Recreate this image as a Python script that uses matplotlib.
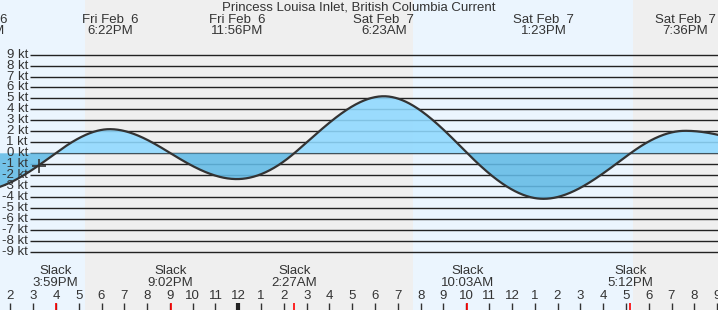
import numpy as np
import matplotlib
matplotlib.use("Agg")
import matplotlib.pyplot as plt
import matplotlib.transforms as mtransforms

plt.rcParams['font.family'] = ['Liberation Sans', 'DejaVu Sans']

# ---- data (hours from Fri Feb 6 00:00) ----
event_times = [12.63, 15.983, 18.367, 21.033, 23.933, 26.45, 30.383, 34.05, 37.383, 41.2, 43.6, 47.43]
event_speeds = [-3.4, 0.0, 2.2, 0.0, -2.35, 0.0, 5.2, 0.0, -4.15, 0.0, 2.05, 0.0]

max_times = [12.63, 18.367, 23.933, 30.383, 37.383, 43.6]
max_day_labels = ["Fri Feb  6", "Fri Feb  6", "Fri Feb  6", "Sat Feb  7", "Sat Feb  7", "Sat Feb  7"]
max_time_labels = ["12:38PM", "6:22PM", "11:56PM", "6:23AM", "1:23PM", "7:36PM"]

slack_times = [15.983, 21.033, 26.45, 34.05, 41.2]
slack_labels = ["3:59PM", "9:02PM", "2:27AM", "10:03AM", "5:12PM"]

night_spans = [(17.28, 31.66), (41.31, 46.0)]
hour_ticks = list(range(14, 46))
y_levels = list(range(9, -10, -1))
now_time = [15.27]
now_speed = [-1.16]

title = "Princess Louisa Inlet, British Columbia Current"

# ---- figure ----
W, H = 718, 310
fig = plt.figure(figsize=(W / 100, H / 100), dpi=100)
ax = fig.add_axes([0, 0, 1, 1])
px_per_hr = 22.8
t0 = 14 - 10.3 / px_per_hr
ax.set_xlim(t0, t0 + W / px_per_hr)
px_per_kt = 10.97
y0 = 153.3
ax.set_ylim(-(H - y0) / px_per_kt, y0 / px_per_kt)
ax.axis('off')

text_c = '#333333'
fs = 9.5
bx = mtransforms.blended_transform_factory(ax.transData, ax.transAxes)
by = mtransforms.blended_transform_factory(ax.transAxes, ax.transData)

def fy(p):
    return 1 - p / H

# backgrounds
ax.axvspan(t0 - 5, t0 + W / px_per_hr + 5, color='#EBF5FE', zorder=0, lw=0)
for a, b in night_spans:
    ax.axvspan(a, b, color='#EFEFEF', zorder=0.5, lw=0)

# grid lines
for v in y_levels:
    ax.plot([30 / W, 1], [v, v], transform=by, color='#222222', lw=1, zorder=1, solid_capstyle='butt')
    ax.text(28 / W, v, f"{v} kt", transform=by, ha='right', va='center', fontsize=fs, color=text_c, zorder=5)

# curve: cubic Hermite through the events, flat at maxima, smooth through slacks
n = len(event_times)
slopes = []
for i in range(n):
    if event_speeds[i] != 0:
        slopes.append(0.0)
    else:
        ss = []
        if i > 0:
            ss.append(-event_speeds[i - 1] * np.pi / 2 / (event_times[i] - event_times[i - 1]))
        if i < n - 1:
            ss.append(event_speeds[i + 1] * np.pi / 2 / (event_times[i + 1] - event_times[i]))
        slopes.append(float(np.mean(ss)))

ts, vs = [], []
for i in range(n - 1):
    ta, tb = event_times[i], event_times[i + 1]
    va, vb = event_speeds[i], event_speeds[i + 1]
    ma, mb = slopes[i], slopes[i + 1]
    h = tb - ta
    s = np.linspace(0, 1, 100)
    h00 = 2 * s**3 - 3 * s**2 + 1
    h10 = s**3 - 2 * s**2 + s
    h01 = -2 * s**3 + 3 * s**2
    h11 = s**3 - s**2
    vv = h00 * va + h10 * h * ma + h01 * vb + h11 * h * mb
    ts.append(ta + s * h); vs.append(vv)
t = np.concatenate(ts); v = np.concatenate(vs)

ax.fill_between(t, 0, v, where=v >= 0, interpolate=True, color='#8FD9FF', alpha=0.88, lw=0, zorder=2)
ax.fill_between(t, 0, v, where=v <= 0, interpolate=True, color='#62BBE6', alpha=0.88, lw=0, zorder=2)
ax.plot(t, v, color='#333333', lw=1.6, zorder=3)
ax.plot(now_time, now_speed, marker='+', ms=10, mew=1.2, color='#333333', ls='none', zorder=4)

# title
ax.text(0.5, fy(7), title, transform=ax.transAxes, ha='center', va='center', fontsize=fs, color=text_c)

# top max labels
for tm, d, l in zip(max_times, max_day_labels, max_time_labels):
    ax.text(tm, fy(20), d, transform=bx, ha='center', va='center', fontsize=fs, color=text_c)
    ax.text(tm, fy(31.5), l, transform=bx, ha='center', va='center', fontsize=fs, color=text_c)

# slack labels
for ts_, l in zip(slack_times, slack_labels):
    ax.text(ts_, fy(271), "Slack", transform=bx, ha='center', va='center', fontsize=fs, color=text_c)
    ax.text(ts_, fy(283), l, transform=bx, ha='center', va='center', fontsize=fs, color=text_c)

# hour ticks
for hr in hour_ticks:
    hh = hr % 24
    lab = 12 if hh % 12 == 0 else hh % 12
    ax.text(hr, fy(296), str(lab), transform=bx, ha='center', va='center', fontsize=fs, color=text_c)
    if hh == 0:
        ax.plot([hr, hr], [fy(303), 0], transform=bx, color='#222222', lw=3, solid_capstyle='butt')
    else:
        ax.plot([hr, hr], [fy(303), 0], transform=bx, color='#333333', lw=1, solid_capstyle='butt')
for ts_ in slack_times:
    ax.plot([ts_, ts_], [fy(303), 0], transform=bx, color='red', lw=1.2, solid_capstyle='butt', zorder=4)

fig.savefig('out.png', dpi=100)
